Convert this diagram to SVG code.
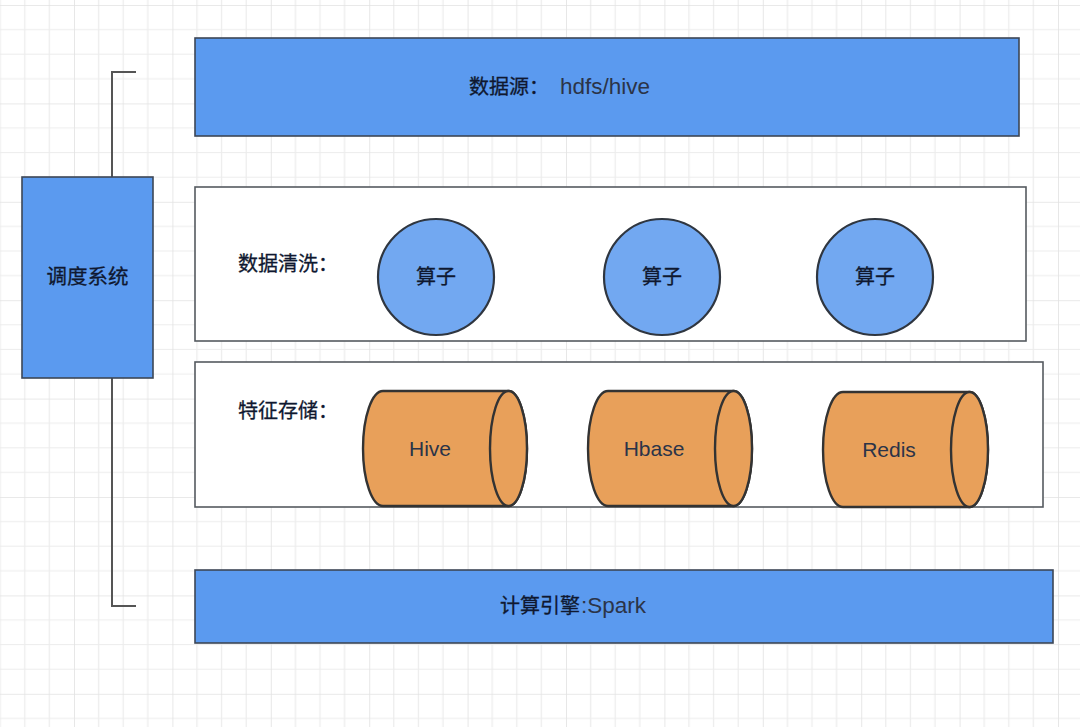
<svg xmlns="http://www.w3.org/2000/svg" width="1080" height="727" viewBox="0 0 1080 727">
<defs>
<pattern id="grid" patternUnits="userSpaceOnUse" x="74" y="5" width="98.4" height="98.4">
<g stroke="#ececec" stroke-width="1.2">
<line x1="24.6" y1="0" x2="24.6" y2="98.4"/>
<line x1="49.2" y1="0" x2="49.2" y2="98.4"/>
<line x1="73.8" y1="0" x2="73.8" y2="98.4"/>
<line x1="0" y1="24.6" x2="98.4" y2="24.6"/>
<line x1="0" y1="49.2" x2="98.4" y2="49.2"/>
<line x1="0" y1="73.8" x2="98.4" y2="73.8"/>
</g>
<g stroke="#e2e2e2" stroke-width="1.6">
<line x1="0" y1="0" x2="0" y2="98.4"/>
<line x1="0" y1="0" x2="98.4" y2="0"/>
</g>
</pattern>
<style>
.box{fill:#5b9aef;stroke:#3d4656;stroke-width:1.6}
.panel{fill:#ffffff;stroke:#555a60;stroke-width:1.6}
.op{fill:#72a8f1;stroke:#2f3640;stroke-width:2.2}
.cyl{fill:#e8a05a;stroke:#333333;stroke-width:2.4}
.conn{fill:none;stroke:#555555;stroke-width:2}
.cjk{font-family:"Noto Sans CJK SC","Liberation Sans",sans-serif;font-size:20px;font-weight:400;fill:#0f1830;stroke:#0f1830;stroke-width:0.3}
.lat{font-family:"Liberation Sans","Noto Sans CJK SC",sans-serif;font-size:21px;font-weight:400;fill:#2b3448;stroke:none}
</style>
</defs>
<rect width="1080" height="727" fill="#ffffff"/>
<rect width="1080" height="727" fill="url(#grid)"/>

<g id="connectors">
<polyline class="conn" points="136,72 112,72 112,177"/>
<polyline class="conn" points="112,378 112,606 136,606"/>
</g>

<g id="datasource">
<rect class="box" x="195" y="38" width="824" height="98"/>
<text class="cjk" x="469" y="94">数据源：<tspan class="lat" x="560" style="font-size:22.5px">hdfs/hive</tspan></text>
</g>

<g id="scheduler">
<rect class="box" x="22" y="177" width="131" height="201"/>
<text class="cjk" x="87.5" y="284" text-anchor="middle" style="font-size:20.5px">调度系统</text>
</g>

<g id="cleaning">
<rect class="panel" x="195" y="187" width="831" height="154"/>
<text class="cjk" x="238" y="271">数据清洗：</text>
</g>

<g id="op1">
<circle class="op" cx="436" cy="277" r="58"/>
<text class="cjk" x="436" y="284" text-anchor="middle">算子</text>
</g>
<g id="op2">
<circle class="op" cx="662" cy="277" r="58"/>
<text class="cjk" x="662" y="284" text-anchor="middle">算子</text>
</g>
<g id="op3">
<circle class="op" cx="875" cy="277" r="58"/>
<text class="cjk" x="875" y="284" text-anchor="middle">算子</text>
</g>

<g id="storage">
<rect class="panel" x="195" y="362" width="848" height="145"/>
<text class="cjk" x="238" y="418">特征存储：</text>
</g>

<g id="hive">
<path class="cyl" d="M383,391 L508.5,391 A18.5,57.5 0 0 1 508.5,506 L383,506 A20,57.5 0 0 1 383,391 Z"/>
<ellipse class="cyl" cx="508.5" cy="448.5" rx="18.5" ry="57.5"/>
<text class="lat" x="430" y="456" text-anchor="middle">Hive</text>
</g>
<g id="hbase">
<path class="cyl" d="M608,391 L733.5,391 A18.5,57.5 0 0 1 733.5,506 L608,506 A20,57.5 0 0 1 608,391 Z"/>
<ellipse class="cyl" cx="733.5" cy="448.5" rx="18.5" ry="57.5"/>
<text class="lat" x="654" y="456" text-anchor="middle">Hbase</text>
</g>
<g id="redis">
<path class="cyl" d="M843,392 L969.5,392 A18.5,57.5 0 0 1 969.5,507 L843,507 A20,57.5 0 0 1 843,392 Z"/>
<ellipse class="cyl" cx="969.5" cy="449.5" rx="18.5" ry="57.5"/>
<text class="lat" x="889" y="457" text-anchor="middle">Redis</text>
</g>

<g id="engine">
<rect class="box" x="195" y="570" width="858" height="73"/>
<text class="cjk" x="500" y="613">计算引擎<tspan class="lat" x="581" style="font-size:22.5px">:Spark</tspan></text>
</g>
</svg>
